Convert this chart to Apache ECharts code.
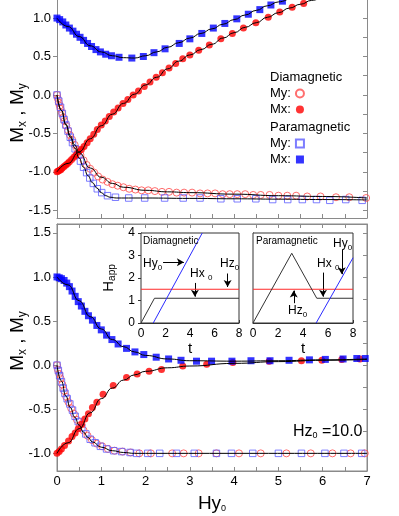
<!DOCTYPE html>
<html><head><meta charset="utf-8">
<script src="https://cdn.jsdelivr.net/npm/echarts@6/dist/echarts.min.js"></script>
<style>html,body{margin:0;padding:0;background:#fff}#c{width:399px;height:516px}</style>
</head><body><div id="c"></div>
<script>
const FONT = 'Liberation Sans, Arial, Helvetica, sans-serif';

// ---------- tick values ----------
const xLabelValues = [0, 1, 2, 3, 4, 5, 6, 7];
const xTickValues = [0, 0.5, 1, 1.5, 2, 2.5, 3, 3.5, 4, 4.5, 5, 5.5, 6, 6.5, 7];
const topYLabelValues = [-1.5, -1, -0.5, 0, 0.5, 1];
const topYMinorValues = [-1.5, -1.25, -1, -0.75, -0.5, -0.25, 0, 0.25, 0.5, 0.75, 1];
const botYLabelValues = [-1, -0.5, 0, 0.5, 1, 1.5];
const botYMinorValues = [-1, -0.75, -0.5, -0.25, 0, 0.25, 0.5, 0.75, 1, 1.25, 1.5];
const insetXLabelValues = [0, 2, 4, 6, 8];
const insetYLabelValues = [0, 1, 2, 3, 4];
const insetYMinorValues = [0, 0.5, 1, 1.5, 2, 2.5, 3, 3.5, 4];

// ---------- top panel (points) ----------
const topDiaMx = [[0,-1.0],[0.03,-0.99],[0.06,-0.98],[0.09,-0.97],[0.12,-0.95],[0.16,-0.93],[0.2,-0.91],[0.24,-0.89],[0.28,-0.87],[0.33,-0.84],[0.38,-0.81],[0.43,-0.78],[0.49,-0.74],[0.55,-0.71],[0.61,-0.67],[0.68,-0.62],[0.75,-0.57],[0.83,-0.51],[0.91,-0.45],[1.0,-0.39],[1.09,-0.34],[1.18,-0.28],[1.28,-0.22],[1.38,-0.17],[1.49,-0.11],[1.6,-0.06],[1.72,0.0],[1.84,0.05],[1.97,0.11],[2.1,0.17],[2.24,0.23],[2.38,0.29],[2.53,0.35],[2.68,0.41],[2.84,0.47],[3.0,0.52],[3.2,0.58],[3.44,0.65],[3.7,0.73],[3.96,0.80],[4.21,0.87],[4.49,0.94],[4.77,1.01],[5.03,1.08],[5.31,1.14],[5.57,1.19],[5.82,1.24]];
const topDiaMy = [[0,0],[0.02,-0.05],[0.04,-0.1],[0.06,-0.14],[0.08,-0.18],[0.11,-0.23],[0.14,-0.29],[0.17,-0.34],[0.21,-0.4],[0.25,-0.46],[0.29,-0.52],[0.34,-0.58],[0.4,-0.65],[0.46,-0.71],[0.53,-0.78],[0.6,-0.85],[0.67,-0.91],[0.75,-0.96],[0.84,-1.01],[0.93,-1.06],[1.03,-1.1],[1.14,-1.13],[1.25,-1.16],[1.37,-1.18],[1.5,-1.2],[1.63,-1.22],[1.77,-1.23],[1.91,-1.24],[2.06,-1.24],[2.21,-1.25],[2.37,-1.26],[2.53,-1.26],[2.7,-1.27],[2.87,-1.27],[3.05,-1.27],[3.23,-1.28],[3.4,-1.28],[3.57,-1.28],[3.74,-1.29],[3.9,-1.29],[4.07,-1.29],[4.25,-1.29],[4.43,-1.3],[4.6,-1.3],[4.8,-1.3],[5.0,-1.31],[5.2,-1.31],[5.4,-1.31],[5.65,-1.32],[5.95,-1.32],[6.3,-1.33],[6.6,-1.33],[6.98,-1.34]];
const topParaMx = [[0,1.0],[0.06,0.98],[0.13,0.95],[0.2,0.91],[0.28,0.87],[0.36,0.83],[0.44,0.79],[0.52,0.75],[0.6,0.71],[0.69,0.67],[0.78,0.63],[0.88,0.59],[0.98,0.56],[1.1,0.53],[1.23,0.51],[1.4,0.49],[1.69,0.48],[1.95,0.5],[2.19,0.55],[2.44,0.6],[2.76,0.67],[3.0,0.73],[3.27,0.8],[3.53,0.87],[3.79,0.93],[4.06,0.99],[4.32,1.05],[4.58,1.11],[4.83,1.17],[5.09,1.22]];
const topParaMy = [[0,0],[0.04,-0.08],[0.08,-0.16],[0.12,-0.24],[0.16,-0.32],[0.2,-0.39],[0.25,-0.47],[0.3,-0.55],[0.35,-0.62],[0.41,-0.7],[0.47,-0.78],[0.53,-0.86],[0.6,-0.94],[0.67,-1.01],[0.74,-1.08],[0.82,-1.15],[0.91,-1.22],[1.01,-1.27],[1.14,-1.31],[1.32,-1.33],[1.62,-1.34],[1.98,-1.34],[2.43,-1.34],[2.85,-1.34],[3.23,-1.34],[3.7,-1.35],[4.07,-1.35],[4.49,-1.35],[4.87,-1.36],[5.21,-1.36],[5.54,-1.36],[5.86,-1.36],[6.16,-1.37],[6.52,-1.36],[6.89,-1.37]];

// ---------- top panel (fitted curves) ----------
const topDiaMxFit = [[0,-1.0],[0.25,-0.89],[0.5,-0.74],[0.75,-0.57],[1.0,-0.4],[1.25,-0.25],[1.5,-0.11],[1.75,0.01],[2.0,0.13],[2.25,0.23],[2.5,0.34],[2.75,0.44],[3.0,0.52],[3.25,0.59],[3.5,0.66],[3.75,0.74],[4.0,0.81],[4.25,0.88],[4.5,0.94],[4.75,1.01],[5.0,1.07],[5.25,1.13],[5.5,1.18],[5.75,1.23],[6.0,1.28]];
const topDiaMyFit = [[0,0],[0.1,-0.2],[0.2,-0.38],[0.3,-0.53],[0.4,-0.65],[0.5,-0.75],[0.75,-0.95],[1.0,-1.07],[1.25,-1.15],[1.5,-1.2],[2.0,-1.24],[2.5,-1.26],[3.0,-1.27],[4.0,-1.29],[5.0,-1.31],[6.0,-1.32],[7.0,-1.34]];
const topParaMxFit = [[0,1.0],[0.25,0.89],[0.5,0.76],[0.75,0.64],[1.0,0.56],[1.25,0.51],[1.5,0.485],[1.75,0.48],[2.0,0.51],[2.25,0.56],[2.5,0.62],[2.75,0.68],[3.0,0.74],[3.25,0.8],[3.5,0.86],[3.75,0.92],[4.0,0.98],[4.25,1.04],[4.5,1.1],[4.75,1.16],[5.0,1.21],[5.25,1.26]];
const topParaMyFit = [[0,0],[0.1,-0.2],[0.2,-0.39],[0.3,-0.55],[0.4,-0.69],[0.5,-0.82],[0.6,-0.94],[0.7,-1.05],[0.8,-1.14],[0.9,-1.21],[1.0,-1.27],[1.1,-1.31],[1.2,-1.33],[1.35,-1.34],[2.0,-1.34],[3.0,-1.345],[4.0,-1.35],[5.0,-1.355],[6.0,-1.36],[7.0,-1.365]];

// ---------- bottom panel (points) ----------
const botDiaMx = [[0,-1.0],[0.05,-0.98],[0.1,-0.95],[0.17,-0.91],[0.26,-0.86],[0.34,-0.81],[0.41,-0.77],[0.48,-0.72],[0.56,-0.67],[0.63,-0.61],[0.71,-0.55],[0.8,-0.48],[0.9,-0.42],[1.04,-0.33],[1.27,-0.23],[1.57,-0.14],[1.81,-0.1],[2.08,-0.07],[2.36,-0.05],[2.84,-0.01],[3.38,0.01],[3.97,0.03],[4.79,0.045],[5.52,0.05],[5.98,0.055],[6.43,0.065],[6.84,0.07]];
const botDiaMy = [[0,0],[0.02,-0.05],[0.05,-0.1],[0.08,-0.15],[0.12,-0.22],[0.16,-0.29],[0.21,-0.36],[0.26,-0.42],[0.32,-0.49],[0.38,-0.55],[0.45,-0.62],[0.52,-0.68],[0.6,-0.74],[0.69,-0.8],[0.79,-0.85],[0.9,-0.89],[1.02,-0.92],[1.15,-0.95],[1.3,-0.97],[1.48,-0.98],[1.66,-0.99],[1.86,-1.0],[2.12,-1.0],[2.6,-1.0],[2.86,-1.0],[3.2,-1.0],[3.6,-1.0],[4.11,-1.0],[4.6,-1.0],[5.18,-1.0],[5.73,-1.0],[6.22,-1.0],[6.63,-1.0],[6.95,-1.0]];
const botParaMx = [[0,1.0],[0.05,0.99],[0.1,0.98],[0.16,0.96],[0.22,0.93],[0.28,0.89],[0.34,0.84],[0.41,0.78],[0.48,0.72],[0.55,0.67],[0.63,0.61],[0.71,0.56],[0.8,0.51],[0.9,0.45],[1.0,0.4],[1.12,0.34],[1.24,0.29],[1.38,0.24],[1.57,0.19],[1.76,0.15],[1.96,0.12],[2.24,0.09],[2.52,0.07],[2.8,0.055],[3.15,0.045],[3.49,0.045],[3.95,0.045],[4.38,0.05],[4.81,0.05],[5.24,0.055],[5.7,0.06],[6.06,0.065],[6.46,0.07],[6.77,0.075],[6.96,0.075]];
const botParaMy = [[0,0],[0.03,-0.06],[0.06,-0.12],[0.1,-0.19],[0.14,-0.26],[0.18,-0.32],[0.23,-0.38],[0.29,-0.44],[0.35,-0.51],[0.41,-0.58],[0.48,-0.64],[0.56,-0.71],[0.65,-0.78],[0.75,-0.84],[0.86,-0.88],[0.98,-0.92],[1.12,-0.95],[1.28,-0.97],[1.46,-0.98],[1.65,-0.99],[1.8,-1.0],[2.05,-1.0],[2.32,-1.0],[2.7,-1.0],[3.1,-1.0],[3.6,-1.0],[3.94,-1.0],[4.42,-1.0],[5.0,-1.0],[5.52,-1.0],[6.05,-1.0],[6.48,-1.0],[6.88,-1.0]];

// ---------- bottom panel (fitted curves) ----------
const botParaMxFit = [[0,1.0],[0.25,0.91],[0.5,0.73],[0.75,0.55],[1.0,0.41],[1.25,0.29],[1.5,0.21],[1.75,0.15],[2.0,0.11],[2.5,0.07],[3.0,0.05],[4.0,0.045],[5.0,0.05],[6.0,0.06],[7.0,0.07]];
const botDiaMxFit = [[0,-1.0],[0.25,-0.88],[0.5,-0.72],[0.75,-0.54],[1.0,-0.38],[1.25,-0.26],[1.5,-0.17],[1.75,-0.11],[2.0,-0.07],[2.5,-0.03],[3.0,-0.01],[4.0,0.02],[5.0,0.04],[6.0,0.055],[7.0,0.065]];
const botMyFit = [[0,0],[0.1,-0.18],[0.2,-0.35],[0.3,-0.48],[0.4,-0.59],[0.5,-0.68],[0.6,-0.76],[0.7,-0.82],[0.8,-0.87],[1.0,-0.93],[1.25,-0.97],[1.5,-0.99],[1.75,-1.0],[7.0,-1.0]];

// ---------- insets (applied fields vs t) ----------
const insetDiaHx = [[0,0],[1.1,1.1],[8,1.1]];
const insetDiaHy = [[1.0,0],[5.0,4.0]];
const insetDiaHz = [[0,1.5],[8,1.5]];
const insetParaHx = [[0,0],[3.1,3.1],[5.1,1.1],[8,1.1]];
const insetParaHy = [[5.05,0],[8,2.9]];
const insetParaHz = [[0,1.5],[8,1.5]];
const insetDiaArrows = [[[1.8,2.7],[3.5,2.7]], [[4.4,1.78],[4.4,1.17]], [[7.07,2.2],[7.07,1.6]]];
const insetParaArrows = [[[7.1,3.25],[7.1,2.17]], [[5.6,2.24],[5.6,1.17]], [[3.26,0.88],[3.26,1.44]]];

const AXC = '#8a8a8a';
const INC = '#333';

function sub(big, small, shift) {
  return { a: { fontSize: big, fontFamily: FONT, color: '#000' },
           s: { fontSize: small, fontFamily: FONT, color: '#000', padding: [shift, 0, 0, 0] } };
}

function mainX(gridIndex, showLabels, extra) {
  return Object.assign({
    type: 'value', gridIndex, min: 0, max: 7,
    axisLine: { show: true, onZero: false, lineStyle: { color: AXC, width: 1 } },
    axisTick: { show: true, inside: true, length: 4, customValues: xTickValues, lineStyle: { color: AXC } },
    axisLabel: { show: showLabels, customValues: xLabelValues, fontSize: 13, fontFamily: FONT, color: '#000', margin: 4 },
    splitLine: { show: false }
  }, extra || {});
}
function mainY(gridIndex, min, max, labels, minor, right) {
  return {
    type: 'value', gridIndex, min, max, position: right ? 'right' : 'left',
    axisLine: { show: true, onZero: false, lineStyle: { color: AXC, width: 1 } },
    axisTick: { show: true, inside: !!right, length: 4, customValues: right ? minor : labels, lineStyle: { color: AXC } },
    axisLabel: { show: !right, customValues: labels, fontSize: 13, fontFamily: FONT, color: '#000', margin: 6,
                 formatter: v => v.toFixed(1) },
    splitLine: { show: false }
  };
}
function insetX(gridIndex) {
  return {
    type: 'value', gridIndex, min: 0, max: 8,
    axisLine: { show: true, onZero: false, lineStyle: { color: INC } },
    axisTick: { show: true, inside: true, length: 3, customValues: insetXLabelValues, lineStyle: { color: INC } },
    axisLabel: { customValues: insetXLabelValues, fontSize: 12, fontFamily: FONT, color: '#000', margin: 5 },
    splitLine: { show: false },
    name: 't', nameLocation: 'middle', nameGap: 17,
    nameTextStyle: { fontSize: 15, fontFamily: FONT, color: '#000' }
  };
}
function insetY(gridIndex, labels) {
  const o = {
    type: 'value', gridIndex, min: 0, max: 4,
    axisLine: { show: true, onZero: false, lineStyle: { color: INC } },
    axisTick: { show: true, inside: !labels, length: 3, customValues: labels ? insetYLabelValues : insetYMinorValues, lineStyle: { color: INC } },
    axisLabel: { show: labels, customValues: insetYLabelValues, fontSize: 12, fontFamily: FONT, color: '#000', margin: 6 },
    splitLine: { show: false }
  };
  if (labels) {
    o.name = '{a|H}{s|app}';
    o.nameLocation = 'middle';
    o.nameGap = 24;
    o.nameRotate = 90;
    o.nameTextStyle = { rich: sub(15, 10, 7) };
  }
  return o;
}

function scatter(name, data, xi, yi, symbol, style, size) {
  return { type: 'scatter', name, data, xAxisIndex: xi, yAxisIndex: yi, symbol, symbolSize: size || 7,
           itemStyle: style, z: 2, silent: true };
}
function fit(data, xi, yi) {
  return { type: 'line', data, xAxisIndex: xi, yAxisIndex: yi, showSymbol: false, smooth: true, smoothMonotone: 'x',
           lineStyle: { color: '#000', width: 1 }, z: 3, silent: true };
}
function inLine(data, xi, yi, color, arrows) {
  const s = { type: 'line', data, xAxisIndex: xi, yAxisIndex: yi, showSymbol: false,
              lineStyle: { color, width: 1 }, z: 5, silent: true };
  if (arrows) {
    s.markLine = { silent: true, symbol: ['none', 'arrow'], symbolSize: [6, 7], animation: false,
      label: { show: false }, lineStyle: { color: '#000', width: 1, type: 'solid' },
      data: arrows.map(a => [{ coord: a[0] }, { coord: a[1] }]) };
  }
  return s;
}

const RED = '#ff0000', RED_O = '#ff4a4a', BLUE = '#0000ff', BLUE_O = '#5c5cff';
const sDiaMx = { color: RED };
const sDiaMy = { color: 'rgba(255,255,255,0)', borderColor: RED_O, borderWidth: 1 };
const sParaMx = { color: BLUE };
const sParaMy = { color: 'rgba(255,255,255,0)', borderColor: BLUE_O, borderWidth: 1 };

const legendNames = { 'Dia My': 'My:', 'Dia Mx': 'Mx:', 'Para My': 'My:', 'Para Mx': 'Mx:' };
function legend(data, top) {
  return { data, left: 270, top, orient: 'vertical', align: 'right', padding: 0, itemWidth: 8, itemHeight: 8,
           itemGap: 3, selectedMode: false,
           formatter: n => '{t|' + legendNames[n] + '}',
           textStyle: { fontSize: 13, fontFamily: FONT, color: '#000', rich: { t: { width: 30, fontSize: 13, fontFamily: FONT, color: '#000' } } } };
}

function txt(x, y, text, rich, size) {
  return { type: 'text', x, y, z: 100, silent: true,
           style: rich ? { text, rich, verticalAlign: 'middle', align: 'left' }
                       : { text, fontSize: size, fontFamily: FONT, fill: '#000', verticalAlign: 'middle', align: 'left' } };
}

const chart = echarts.init(document.getElementById('c'));
chart.setOption({
  animation: false,
  backgroundColor: '#fff',
  grid: [
    { left: 57, right: 32, top: 0, bottom: 298, show: false },
    { left: 57, right: 32, top: 224, bottom: 45, show: true, borderColor: AXC, borderWidth: 1 },
    { left: 141, top: 233, width: 98, height: 90, show: true, backgroundColor: '#fff', borderColor: INC, borderWidth: 1, z: 4 },
    { left: 253, top: 233, width: 100, height: 90, show: true, backgroundColor: '#fff', borderColor: INC, borderWidth: 1, z: 4 }
  ],
  xAxis: [
    mainX(0, false),
    mainX(1, true, { name: '{a|Hy}{s|0}', nameLocation: 'middle', nameGap: 23, nameTextStyle: { rich: sub(19, 9, 10) } }),
    mainX(1, false, { position: 'top' }),
    insetX(2),
    insetX(3)
  ],
  yAxis: [
    mainY(0, -1.6, 1.235, topYLabelValues, topYMinorValues, false),
    mainY(0, -1.6, 1.235, topYLabelValues, topYMinorValues, true),
    mainY(1, -1.2, 1.6, botYLabelValues, botYMinorValues, false),
    mainY(1, -1.2, 1.6, botYLabelValues, botYMinorValues, true),
    insetY(2, true),
    insetY(3, false)
  ],
  legend: [
    legend(['Dia My', 'Dia Mx'], 87),
    legend(['Para My', 'Para Mx'], 137)
  ],
  series: [
    scatter('Dia My', topDiaMy, 0, 0, 'circle', sDiaMy, 7),
    scatter('Para My', topParaMy, 0, 0, 'rect', sParaMy, 6.5),
    scatter('Dia Mx', topDiaMx, 0, 0, 'circle', sDiaMx, 7),
    scatter('Para Mx', topParaMx, 0, 0, 'rect', sParaMx, 7),
    fit(topDiaMxFit, 0, 0), fit(topDiaMyFit, 0, 0), fit(topParaMxFit, 0, 0), fit(topParaMyFit, 0, 0),
    scatter('Dia My', botDiaMy, 1, 2, 'circle', sDiaMy, 7),
    scatter('Para My', botParaMy, 1, 2, 'rect', sParaMy, 6.5),
    scatter('Dia Mx', botDiaMx, 1, 2, 'circle', sDiaMx, 7),
    scatter('Para Mx', botParaMx, 1, 2, 'rect', sParaMx, 7),
    fit(botParaMxFit, 1, 2), fit(botDiaMxFit, 1, 2), fit(botMyFit, 1, 2),
    inLine(insetDiaHz, 3, 4, '#ff2a2a'),
    inLine(insetDiaHx, 3, 4, INC, insetDiaArrows),
    inLine(insetDiaHy, 3, 4, '#2a2aff'),
    inLine(insetParaHz, 4, 5, '#ff2a2a'),
    inLine(insetParaHx, 4, 5, INC, insetParaArrows),
    inLine(insetParaHy, 4, 5, '#2a2aff')
  ],
  graphic: [
    { type: 'text', x: 18, y: 113, rotation: Math.PI / 2, z: 100, silent: true,
      style: { text: '{a|M}{s|x}{a| , M}{s|y}', rich: sub(19, 12, 9), align: 'center', verticalAlign: 'middle' } },
    { type: 'text', x: 18, y: 341, rotation: Math.PI / 2, z: 100, silent: true,
      style: { text: '{a|M}{s|x}{a| , M}{s|y}', rich: sub(19, 12, 9), align: 'center', verticalAlign: 'middle' } },
    txt(270, 77, 'Diamagnetic', null, 13),
    txt(270, 127, 'Paramagnetic', null, 13),
    txt(143, 241, 'Diamagnetic', null, 10),
    txt(143, 264, '{a|Hy}{s|0}', sub(12, 8, 8)),
    txt(190, 274, '{a|Hx }{s|0}', sub(12, 8, 8)),
    txt(220, 264, '{a|Hz}{s|0}', sub(12, 8, 8)),
    txt(256, 241, 'Paramagnetic', null, 10),
    txt(333, 244, '{a|Hy}{s|0}', sub(12, 8, 8)),
    txt(317, 264, '{a|Hx }{s|0}', sub(12, 8, 8)),
    txt(288, 311, '{a|Hz}{s|0}', sub(12, 8, 8)),
    txt(293, 432, '{a|Hz}{s|0}{a| =10.0}', sub(16, 9, 8))
  ]
});
</script></body></html>
